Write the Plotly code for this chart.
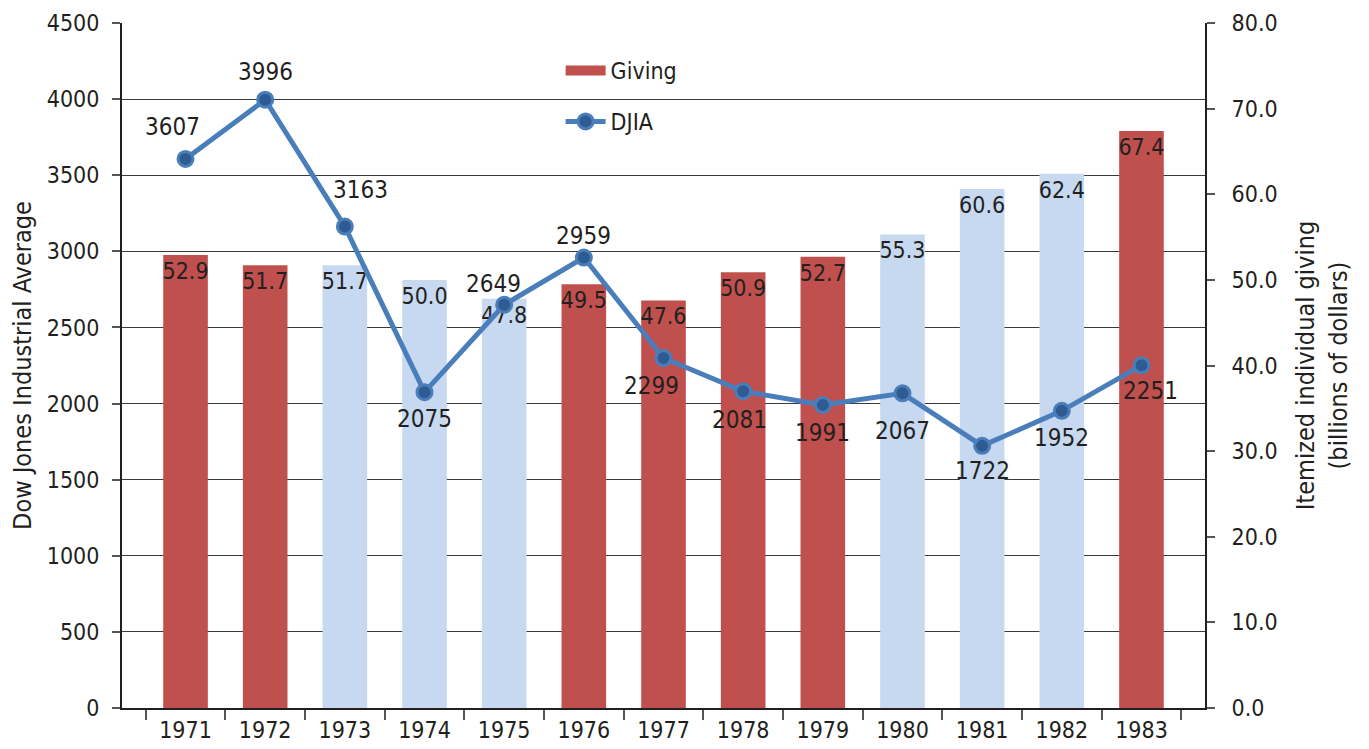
import plotly.graph_objects as go

years = ["1971", "1972", "1973", "1974", "1975", "1976", "1977",
         "1978", "1979", "1980", "1981", "1982", "1983"]
giving = [52.9, 51.7, 51.7, 50.0, 47.8, 49.5, 47.6, 50.9, 52.7, 55.3, 60.6, 62.4, 67.4]
djia = [3607, 3996, 3163, 2075, 2649, 2959, 2299, 2081, 1991, 2067, 1722, 1952, 2251]
# which bars are highlighted (red) vs. muted (light blue)
highlight = [True, True, False, False, False, True, True, True, True, False, False, False, True]

RED = "#C0504D"
LIGHT = "#C6D9F1"
LINE = "#4A7EBB"
DOT = "#2E5C92"
TXT = "#231F20"
FONT = "DejaVu Sans Condensed, Liberation Sans Narrow, sans-serif"

# label offsets (pixels) for the DJIA labels
lab_dx = [-13, 0, 16, 0, -11, 0, -12, -4, 0, 0, 0, 0, 9]
lab_dy = [32, 28, 37, -27, 21, 22, -28, -29, -28, -38, -25, -27, -26]

fig = go.Figure()

fig.add_trace(go.Bar(
    x=years, y=giving, yaxis="y",
    marker=dict(color=[RED if h else LIGHT for h in highlight], line=dict(width=0)),
    width=0.56,
    text=[f"{v:.1f}" for v in giving],
    textposition="inside", insidetextanchor="end", constraintext="none",
    textangle=0,
    insidetextfont=dict(color=TXT, size=23, family=FONT),
    showlegend=False, name="Giving",
))

# legend proxy for Giving
fig.add_trace(go.Scatter(
    x=years[:1], y=[None], mode="lines", name="Giving",
    line=dict(color=RED, width=16), legendgroup="g", yaxis="y",
    hoverinfo="skip",
))

fig.add_trace(go.Scatter(
    x=years, y=djia, yaxis="y2", mode="lines+markers", name="DJIA",
    line=dict(color=LINE, width=5),
    marker=dict(size=15, color=DOT, line=dict(color=LINE, width=3)),
    legendgroup="d",
))

annotations = []
for i, (v, dx, dy) in enumerate(zip(djia, lab_dx, lab_dy)):
    annotations.append(dict(
        x=i, y=v, xref="x", yref="y2", text=str(v), showarrow=False,
        xshift=dx, yshift=dy, font=dict(size=24, color=TXT, family=FONT),
    ))

fig.update_layout(
    width=1369, height=749,
    margin=dict(l=114, r=172, t=15, b=49),
    plot_bgcolor="white", paper_bgcolor="white",
    font=dict(family=FONT, size=23, color=TXT),
    annotations=annotations,
    legend=dict(
        x=0.405, y=0.962, xanchor="left", yanchor="top",
        bgcolor="rgba(0,0,0,0)", font=dict(size=23, family=FONT, color=TXT),
        tracegroupgap=18, itemwidth=40,
    ),
    xaxis=dict(
        type="category", showline=True, linecolor=TXT, linewidth=2,
        ticks="outside", tickson="boundaries", ticklen=10, tickcolor="#555",
        tickwidth=1.5, showgrid=False, tickangle=0, automargin=False,
        tickfont=dict(size=23, family=FONT, color=TXT),
    ),
    yaxis=dict(
        side="right", range=[0, 80], dtick=10, tickformat=".1f",
        showgrid=False, zeroline=False, showline=True, linecolor=TXT, linewidth=2,
        ticks="outside", ticklen=8, tickcolor="#555", tickwidth=1.5,
        ticklabelstandoff=12, automargin=False,
        tickfont=dict(size=23, family=FONT, color=TXT),
        title=dict(text="Itemized individual giving<br>(billions of dollars)",
                   font=dict(size=25, family=FONT, color=TXT), standoff=20),
    ),
    yaxis2=dict(
        overlaying="y", side="left", range=[0, 4500], dtick=500,
        showgrid=True, gridcolor="#3A3A3A", gridwidth=1,
        zeroline=False, showline=True, linecolor=TXT, linewidth=2,
        ticks="outside", ticklen=8, tickcolor="#555", tickwidth=1.5,
        ticklabelstandoff=8, automargin=False,
        tickfont=dict(size=23, family=FONT, color=TXT),
        title=dict(text="Dow Jones Industrial Average",
                   font=dict(size=25, family=FONT, color=TXT), standoff=12),
    ),
)

fig.write_html("out.html")
